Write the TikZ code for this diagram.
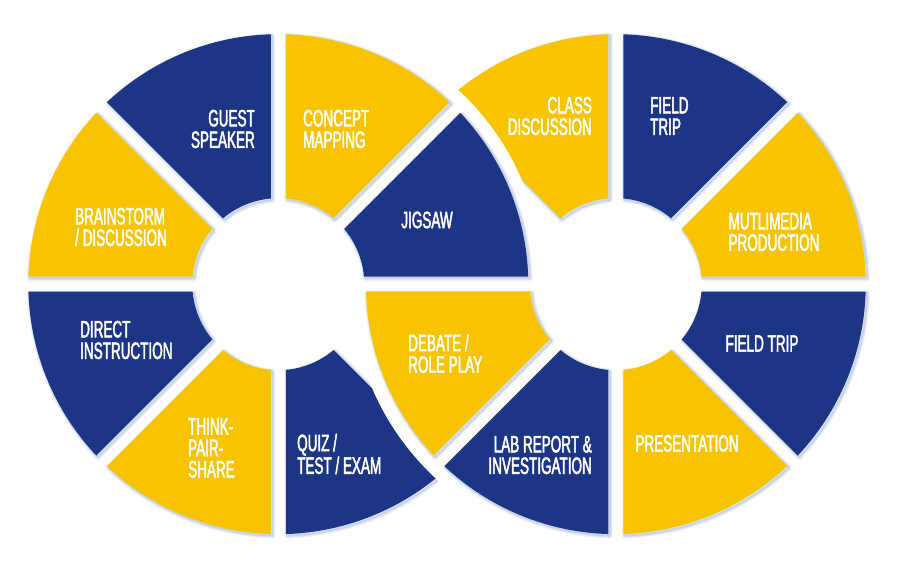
\documentclass[tikz,border=0pt]{standalone}
\usepackage{fontspec}
\newfontfamily\ringfont[FakeStretch=0.57,FakeBold=2]{Liberation Sans}
\usetikzlibrary{calc}

\definecolor{ringblue}{RGB}{29,53,133}
\definecolor{ringyellow}{RGB}{248,196,0}
\definecolor{glow}{RGB}{165,185,218}

% ring radii and half-gap angles: asin(7.5/250), asin(7.5/86)
\newcommand{\rout}{250pt}
\newcommand{\rin}{86pt}
\newcommand{\ao}{1.72}
\newcommand{\ai}{5.0}
\newcommand{\sectorpath}[3]{($(#1)+({#2+\ao}:\rout)$) arc[start angle=#2+\ao, end angle=#3-\ao, radius=\rout]
  -- ($(#1)+({#3-\ai}:\rin)$) arc[start angle=#3-\ai, end angle=#2+\ai, radius=\rin] -- cycle}

\begin{document}
\begin{tikzpicture}[x=1pt, y=1pt,
    lbl/.style={text=white, font=\ringfont\fontsize{23.7}{21.5}\selectfont, inner sep=0pt},
    halo/.style={draw=glow, line join=round}]
    \useasboundingbox (0,0) rectangle (900,572);
    \coordinate (L) at (278.3,287.8);
    \coordinate (R) at (615.8,287.8);

    % soft shadow under the pieces
    \begin{scope}[transform canvas={xshift=1.5pt, yshift=-1.5pt}]
        \foreach \c/\a/\b in {L/90/135, L/135/180, L/180/225, L/225/270, L/0/45, L/45/90,
                              R/45/90, R/180/225, R/225/270, R/270/315, R/315/360, R/0/45}
            \foreach \w/\o in {6/0.15, 4/0.25, 2/0.4}
                \draw[halo, line width=\w pt, opacity=\o] \sectorpath{\c}{\a}{\b};
    \end{scope}

    % left ring
    \fill[ringblue]   \sectorpath{L}{90}{135};
    \fill[ringyellow] \sectorpath{L}{135}{180};
    \fill[ringblue]   \sectorpath{L}{180}{225};
    \fill[ringyellow] \sectorpath{L}{225}{270};
    \fill[ringblue]   \sectorpath{L}{0}{45};
    \fill[ringyellow] \sectorpath{L}{45}{90};
    \begin{scope}[even odd rule]
        \clip (0,572) rectangle (900,0) (R) circle[radius=265pt];
        \begin{scope}[transform canvas={xshift=1.5pt, yshift=-1.5pt}]
            \foreach \w/\o in {6/0.15, 4/0.25, 2/0.4}
                \draw[halo, line width=\w pt, opacity=\o] \sectorpath{L}{270}{315};
        \end{scope}
        \fill[ringblue] \sectorpath{L}{270}{315};
    \end{scope}

    % right ring
    \fill[ringblue]   \sectorpath{R}{45}{90};
    \fill[ringyellow] \sectorpath{R}{180}{225};
    \fill[ringblue]   \sectorpath{R}{225}{270};
    \fill[ringyellow] \sectorpath{R}{270}{315};
    \fill[ringblue]   \sectorpath{R}{315}{360};
    \fill[ringyellow] \sectorpath{R}{0}{45};
    \begin{scope}[even odd rule]
        \clip (0,572) rectangle (900,0) (L) circle[radius=265pt];
        \begin{scope}[transform canvas={xshift=1.5pt, yshift=-1.5pt}]
            \foreach \w/\o in {6/0.15, 4/0.25, 2/0.4}
                \draw[halo, line width=\w pt, opacity=\o] \sectorpath{R}{90}{135};
        \end{scope}
        \fill[ringyellow] \sectorpath{R}{90}{135};
    \end{scope}

    % labels
    \node[lbl, anchor=east, align=right] (guest) at (255,443) {GUEST\\SPEAKER};
    \node[lbl, anchor=west, align=left] (concept) at (303,443) {CONCEPT\\MAPPING};
    \node[lbl, align=left] (brainstorm) at (121,345) {BRAINSTORM\\/ DISCUSSION};
    \node[lbl] (jigsaw) at (427,352) {JIGSAW};
    \node[lbl, anchor=west, align=left] (direct) at (80,232) {DIRECT\\INSTRUCTION};
    \node[lbl, anchor=west, align=left] (think) at (188,124) {THINK-\\PAIR-\\SHARE};
    \node[lbl, anchor=west, align=left] (quiz) at (297,118) {QUIZ /\\TEST / EXAM};
    \node[lbl, anchor=east, align=right] (class) at (592,456) {CLASS\\DISCUSSION};
    \node[lbl, anchor=west, align=left] (field) at (650,456) {FIELD\\TRIP};
    \node[lbl, align=left] (media) at (774,340) {MUTLIMEDIA\\PRODUCTION};
    \node[lbl, anchor=west, align=left] (debate) at (408,218.5) {DEBATE /\\ROLE PLAY};
    \node[lbl] (trip) at (762,228.5) {FIELD TRIP};
    \node[lbl, anchor=east, align=right] (lab) at (592,117) {LAB REPORT \&\\INVESTIGATION};
    \node[lbl] (present) at (687,128.5) {PRESENTATION};
\end{tikzpicture}
\end{document}
